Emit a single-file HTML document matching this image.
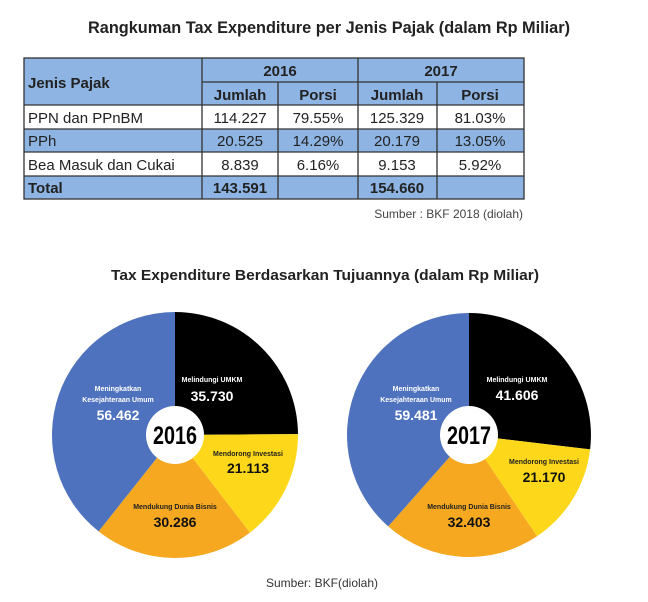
<!DOCTYPE html>
<html><head><meta charset="utf-8"><style>
html,body{margin:0;padding:0;background:#fff;}
svg{display:block;font-family:"Liberation Sans","DejaVu Sans",sans-serif;}
</style></head><body>
<svg width="648" height="602" viewBox="0 0 648 602" xmlns="http://www.w3.org/2000/svg">
<rect width="648" height="602" fill="#fff"/>
<text x="329" y="33" text-anchor="middle" font-size="17" font-weight="bold" fill="#222" textLength="482" lengthAdjust="spacingAndGlyphs">Rangkuman Tax Expenditure per Jenis Pajak (dalam Rp Miliar)</text>
<rect x="24" y="58" width="500" height="47" fill="#8db4e2"/>
<rect x="24" y="105" width="500" height="24" fill="#fff"/>
<rect x="24" y="129" width="500" height="23" fill="#8db4e2"/>
<rect x="24" y="152" width="500" height="24" fill="#fff"/>
<rect x="24" y="176" width="500" height="23" fill="#8db4e2"/>
<g stroke="#333" stroke-width="1.3" fill="none">
<rect x="24" y="58" width="500" height="141"/>
<line x1="202" y1="82" x2="524" y2="82"/>
<line x1="24" y1="105" x2="524" y2="105"/>
<line x1="24" y1="129" x2="524" y2="129"/>
<line x1="24" y1="152" x2="524" y2="152"/>
<line x1="24" y1="176" x2="524" y2="176"/>
<line x1="202" y1="58" x2="202" y2="199"/>
<line x1="358" y1="58" x2="358" y2="199"/>
<line x1="278" y1="82" x2="278" y2="199"/>
<line x1="437" y1="82" x2="437" y2="199"/>
</g>
<g font-size="15" fill="#222">
<text x="28" y="88" font-weight="bold">Jenis Pajak</text>
<text x="280" y="76" font-weight="bold" text-anchor="middle">2016</text>
<text x="441" y="76" font-weight="bold" text-anchor="middle">2017</text>
<g font-weight="bold" text-anchor="middle">
<text x="240" y="100">Jumlah</text><text x="318" y="100">Porsi</text>
<text x="397" y="100">Jumlah</text><text x="480" y="100">Porsi</text>
</g>
<text x="28" y="123">PPN dan PPnBM</text>
<text x="28" y="146">PPh</text>
<text x="28" y="170">Bea Masuk dan Cukai</text>
<text x="28" y="193" font-weight="bold">Total</text>
<g text-anchor="middle">
<text x="240" y="123">114.227</text><text x="318" y="123">79.55%</text><text x="397" y="123">125.329</text><text x="480" y="123">81.03%</text>
<text x="240" y="146">20.525</text><text x="318" y="146">14.29%</text><text x="397" y="146">20.179</text><text x="480" y="146">13.05%</text>
<text x="240" y="170">8.839</text><text x="318" y="170">6.16%</text><text x="397" y="170">9.153</text><text x="480" y="170">5.92%</text>
<text x="240" y="193" font-weight="bold">143.591</text><text x="397" y="193" font-weight="bold">154.660</text>
</g>
</g>
<text x="523" y="218" text-anchor="end" font-size="12" fill="#444">Sumber : BKF 2018 (diolah)</text>
<text x="325" y="280" text-anchor="middle" font-size="15" font-weight="bold" fill="#222" textLength="428" lengthAdjust="spacingAndGlyphs">Tax Expenditure Berdasarkan Tujuannya (dalam Rp Miliar)</text>
<path d="M175,435 L175,312 A123,123 0 0 1 298,434.1 Z" fill="#000"/>
<path d="M175,435 L298,434.1 A123,123 0 0 1 249.9,532.6 Z" fill="#fdd81a"/>
<path d="M175,435 L249.9,532.6 A123,123 0 0 1 98.6,531.4 Z" fill="#f6a821"/>
<path d="M175,435 L98.6,531.4 A123,123 0 0 1 175,312 Z" fill="#4e72bd"/>
<circle cx="175" cy="435" r="29" fill="#fff"/>
<text x="175" y="444" text-anchor="middle" font-size="25" font-weight="bold" fill="#000" textLength="44" lengthAdjust="spacingAndGlyphs">2016</text>
<g text-anchor="middle" font-weight="bold">
<text x="212" y="382" font-size="7" fill="#fff">Melindungi UMKM</text>
<text x="212" y="401" font-size="14" fill="#fff">35.730</text>
<text x="118" y="391" font-size="7" fill="#fff">Meningkatkan</text>
<text x="118" y="402" font-size="7" fill="#fff">Kesejahteraan Umum</text>
<text x="118" y="420" font-size="14" fill="#fff">56.462</text>
<text x="248" y="456" font-size="7" fill="#222">Mendorong Investasi</text>
<text x="248" y="473" font-size="14" fill="#111">21.113</text>
<text x="175" y="509" font-size="7" fill="#222">Mendukung Dunia Bisnis</text>
<text x="175" y="527" font-size="14" fill="#111">30.286</text>
</g>
<path d="M469,435 L469,313 A122,122 0 0 1 590.1,449.4 Z" fill="#000"/>
<path d="M469,435 L590.1,449.4 A122,122 0 0 1 537,536.3 Z" fill="#fdd81a"/>
<path d="M469,435 L537,536.3 A122,122 0 0 1 388.2,526.4 Z" fill="#f6a821"/>
<path d="M469,435 L388.2,526.4 A122,122 0 0 1 469,313 Z" fill="#4e72bd"/>
<circle cx="469" cy="435" r="29" fill="#fff"/>
<text x="469" y="444" text-anchor="middle" font-size="25" font-weight="bold" fill="#000" textLength="44" lengthAdjust="spacingAndGlyphs">2017</text>
<g text-anchor="middle" font-weight="bold">
<text x="517" y="382" font-size="7" fill="#fff">Melindungi UMKM</text>
<text x="517" y="400" font-size="14" fill="#fff">41.606</text>
<text x="416" y="391" font-size="7" fill="#fff">Meningkatkan</text>
<text x="416" y="402" font-size="7" fill="#fff">Kesejahteraan Umum</text>
<text x="416" y="420" font-size="14" fill="#fff">59.481</text>
<text x="544" y="464" font-size="7" fill="#222">Mendorong Investasi</text>
<text x="544" y="482" font-size="14" fill="#111">21.170</text>
<text x="469" y="509" font-size="7" fill="#222">Mendukung Dunia Bisnis</text>
<text x="469" y="527" font-size="14" fill="#111">32.403</text>
</g>
<text x="322" y="587" text-anchor="middle" font-size="12" fill="#333">Sumber: BKF(diolah)</text>
</svg>
</body></html>
